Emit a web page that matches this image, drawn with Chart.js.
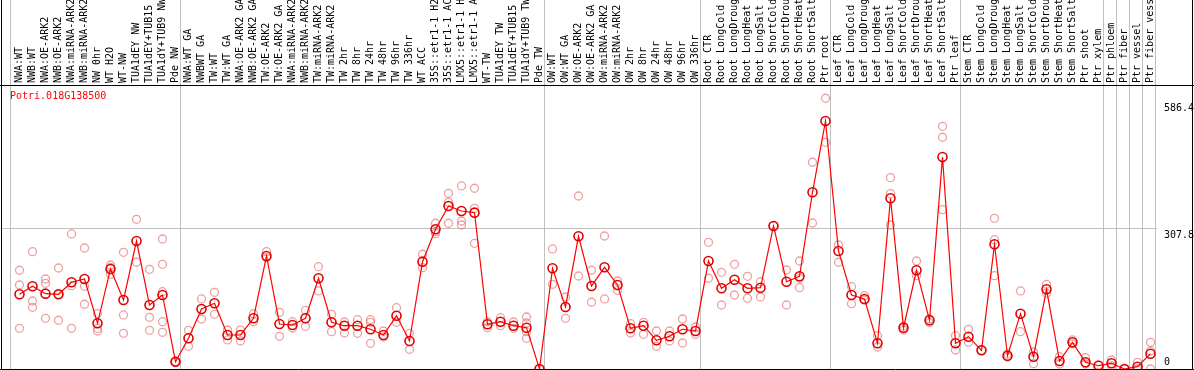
<!DOCTYPE html>
<html>
<head>
<meta charset="utf-8">
<script src="https://cdn.jsdelivr.net/npm/chart.js@4/dist/chart.umd.min.js"></script>
<style>
  html, body { margin: 0; padding: 0; background: #fff; }
  #wrap { width: 1194px; height: 370px; }
</style>
</head>
<body>
<div id="wrap"><canvas id="chart" width="1194" height="370"></canvas></div>
<script>
const geneName = "Potri.018G138500";

const sampleLabels = [
  "NWA:WT", "NWB:WT", "NWA:OE-ARK2", "NWB:OE-ARK2", "NWA:miRNA-ARK2", "NWB:miRNA-ARK2",
  "NW 0hr", "WT H2O", "WT-NW", "TUA1dEY NW", "TUA1dEY+TUB15 NW", "TUA1dY+TUB9 NW", "Pde NW",
  "NWA:WT GA", "NWBWT GA", "TW:WT", "TW:WT GA", "NWA:OE-ARK2 GA", "NWB:OE-ARK2 GA",
  "TW:OE-ARK2", "TW:OE-ARK2 GA", "NWA:miRNA-ARK2 GA", "NWB:miRNA-ARK2 GA", "TW:miRNA-ARK2",
  "TW:miRNA-ARK2 GA", "TW 2hr", "TW 8hr", "TW 24hr", "TW 48hr", "TW 96hr", "TW 336hr",
  "WT ACC", "35S::etr1-1 H2O", "35S::etr1-1 ACC", "LMX5::etr1-1 H2O", "LMX5::etr1-1 ACC",
  "WT-TW", "TUA1dEY TW", "TUA1dEY+TUB15 TW", "TUA1dY+TUB9 TW", "Pde TW",
  "OW:WT", "OW:WT GA", "OW:OE-ARK2", "OW:OE-ARK2 GA", "OW:miRNA-ARK2", "OW:miRNA-ARK2 GA",
  "OW 2hr", "OW 8hr", "OW 24hr", "OW 48hr", "OW 96hr", "OW 336hr",
  "Root CTR", "Root LongCold", "Root LongDrought", "Root LongHeat", "Root LongSalt",
  "Root ShortCold", "Root ShortDrought", "Root ShortHeat", "Root ShortSalt", "Ptr root",
  "Leaf CTR", "Leaf LongCold", "Leaf LongDrought", "Leaf LongHeat", "Leaf LongSalt",
  "Leaf ShortCold", "Leaf ShortDrought", "Leaf ShortHeat", "Leaf ShortSalt", "Ptr leaf",
  "Stem CTR", "Stem LongCold", "Stem LongDrought", "Stem LongHeat", "Stem LongSalt",
  "Stem ShortCold", "Stem ShortDrought", "Stem ShortHeat", "Stem ShortSalt",
  "Ptr shoot", "Ptr xylem", "Ptr phloem", "Ptr fiber", "Ptr vessel", "Ptr fiber vessel"
];

// mean expression per sample (the red line)
const meanValues = [
  163.4, 181, 164.8, 163.4, 189.7, 196.9, 100, 218.8, 151, 280, 140, 161.9, 16,
  67.2, 131.3, 143.7, 74.4, 74.4, 110.9, 247.2, 98.5, 96.3, 110.9, 198.4, 102.2, 94.7, 94.7,
  86.9, 74.4, 116.6, 61.3, 234.8, 305.7, 356.6, 345.7, 342, 97.8, 103.5, 94.7, 90.4, 0,
  220.3, 135.7, 290.3, 181.6, 222.5, 183.8, 89, 94.7, 62.8, 71.5, 86.9, 83.1,
  236.3, 176.6, 195.4, 176.6, 177.9, 312.9, 191, 202.8, 386.6, 542.6,
  258.2, 161.9, 153.2, 56.2, 373.5, 90.4, 216, 106.6, 463.9, 56.2,
  70.7, 40.9, 272.8, 29.1, 121, 26.9, 174.4, 17.5, 58.4, 14.7, 7.2,
  12.5, 0, 5, 33.5
];

// individual replicates (pale circles)
const replicateValues = [
  [216, 183.8, 89], [256.7, 148.8, 135], [196.9, 187.5, 110.9], [221, 163, 106.6],
  [295.4, 182.3, 89], [264.7, 181, 141.6], [121, 89, 83.1], [227.5, 207.2, 222],
  [255.3, 118.2, 78.1], [327.5, 233.5], [218.1, 113.1, 84.7], [284.4, 229.1, 169.1, 103.5, 80.3],
  [17, 15],
  [84.7, 49.7], [153.2, 109.4], [167.8, 119.7], [85.3, 63.5], [85, 61.3], [121, 103.5],
  [256.7, 243.5], [124, 71.5], [103.5, 89.7], [128.4, 93.4], [223.8, 170.7], [119.7, 81.6],
  [102.8, 78.8], [107.9, 78.1], [107.9, 102.2, 56.2], [83.1, 70], [134.1, 102.2], [78.1, 43.1],
  [251, 221.6], [318.8, 300.4, 296], [384.4, 364.7, 318.8], [400.4, 323.8, 315],
  [395.4, 351.6, 275], [103.5, 90.4], [112.2, 94.7], [89, 102.8], [113.8, 100.6, 81.6, 67.2], [0],
  [262.6, 185.3], [157.5, 110.9], [378.5, 203.5], [216, 146], [291, 153.2], [192.5, 172.2],
  [99.1, 78.8], [102.2, 75.9], [83.1, 49.7], [83.1, 61.3], [109.4, 56.9], [91.9, 75.9],
  [277.2, 198.5], [211.6, 140], [229.1, 161.9], [202.8, 154.7], [191, 157.5], [312.9],
  [216.6, 140], [236.3, 198.5, 177.9], [452.3, 319.4], [592.3, 496],
  [271.3, 233.5], [180.1, 142.9], [160.4, 151], [72.9, 48.1], [418.6, 383.6, 315],
  [94, 85.3], [236.3, 204.1], [102, 110], [531, 507, 348.5], [72.9, 41.6],
  [86.9, 58.4], [41], [329.7, 282.9, 204.1], [32.8, 26.3], [170.7, 81.6], [37.2, 11.6],
  [185.3, 165.6], [26.9, 10.9], [63.5, 54.7], [24.7, 10.9], [8.8],
  [19.7, 6.6], [0], [14.7, 0], [58.4, 39.4, 0]
];

// vertical separators between sample groups (in sample index units)
const groupSeparators = [-0.7, 12.35, 40.35, 52.35, 62.35, 72.35, 83.35, 84.35, 85.35, 86.35, 87.35];
const yTickValues = [0, 307.8, 586.4];
const yMax = 621.3;

const monoFont = "'DejaVu Sans Mono', 'Liberation Mono', monospace";

const meanPoints = meanValues.map((v, i) => ({ x: i, y: v }));
const replicatePoints = [];
replicateValues.forEach((reps, i) => {
  reps.forEach(v => replicatePoints.push({ x: i, y: v }));
});

const framePlugin = {
  id: "frame",
  afterDraw(chart) {
    const ctx = chart.ctx;
    const area = chart.chartArea;
    const yScale = chart.scales.y;
    const W = chart.width;

    ctx.save();
    // y tick labels on the right
    ctx.font = "10px " + monoFont;
    ctx.fillStyle = "#000";
    ctx.textAlign = "left";
    ctx.textBaseline = "top";
    yTickValues.forEach(v => {
      const py = yScale.getPixelForValue(v);
      ctx.fillText(String(v), area.right + 7, Math.min(py + 2, area.bottom - 12));
    });

    // gene name
    ctx.fillStyle = "#ff0000";
    ctx.textBaseline = "middle";
    ctx.fillText(geneName, 10, area.top + 11);

    // black frame
    ctx.strokeStyle = "#000";
    ctx.lineWidth = 1;
    ctx.beginPath();
    ctx.moveTo(1.5, 0); ctx.lineTo(1.5, area.bottom + 1);
    ctx.moveTo(W - 1.5, 0); ctx.lineTo(W - 1.5, area.bottom + 1);
    ctx.moveTo(0, area.top + 0.5); ctx.lineTo(W, area.top + 0.5);
    ctx.moveTo(0, area.bottom + 0.5); ctx.lineTo(W, area.bottom + 0.5);
    ctx.stroke();
    ctx.restore();
  }
};

new Chart(document.getElementById("chart"), {
  type: "line",
  data: {
    datasets: [
      {
        label: "replicates",
        data: replicatePoints,
        showLine: false,
        pointRadius: 4,
        pointBorderWidth: 1.3,
        pointBorderColor: "rgba(230, 120, 120, 0.7)",
        pointBackgroundColor: "rgba(255, 255, 255, 0)",
        order: 2
      },
      {
        label: geneName,
        data: meanPoints,
        borderColor: "#ff0000",
        borderWidth: 1.2,
        tension: 0,
        pointRadius: 4.5,
        pointBorderWidth: 1.6,
        pointBorderColor: "#e00000",
        pointBackgroundColor: "rgba(255, 255, 255, 0)",
        order: 1
      }
    ]
  },
  options: {
    responsive: false,
    animation: false,
    events: [],
    layout: { autoPadding: false, padding: { left: 1, right: 0, top: 0, bottom: 1 } },
    plugins: {
      legend: { display: false },
      tooltip: { enabled: false }
    },
    scales: {
      x: {
        type: "linear",
        position: "top",
        min: -1.4231,
        max: 87.5,
        afterBuildTicks: scale => {
          scale.ticks = sampleLabels.map((_, i) => ({ value: i }))
            .concat(groupSeparators.map(v => ({ value: v })));
        },
        afterFit: scale => { scale.height = 85; },
        border: { display: false },
        grid: {
          drawOnChartArea: true,
          drawTicks: true,
          tickLength: 85,
          lineWidth: 1,
          color: ctx => (ctx.tick && Number.isInteger(ctx.tick.value)) ? "rgba(0,0,0,0)" : "#c0c0c0"
        },
        ticks: {
          autoSkip: false,
          minRotation: 90,
          maxRotation: 90,
          padding: -83,
          labelOffset: 12,
          color: "#000",
          font: { family: monoFont, size: 10 },
          callback: value => Number.isInteger(value) ? sampleLabels[value] : ""
        }
      },
      y: {
        type: "linear",
        position: "right",
        min: 0,
        max: yMax,
        afterBuildTicks: scale => {
          scale.ticks = yTickValues.map(v => ({ value: v }));
        },
        afterFit: scale => { scale.width = 37; },
        border: { display: false },
        grid: {
          drawTicks: false,
          color: ctx => (ctx.tick && ctx.tick.value === 307.8) ? "#c0c0c0" : "rgba(0,0,0,0)"
        },
        ticks: { display: false }
      }
    }
  },
  plugins: [framePlugin]
});
</script>
</body>
</html>
